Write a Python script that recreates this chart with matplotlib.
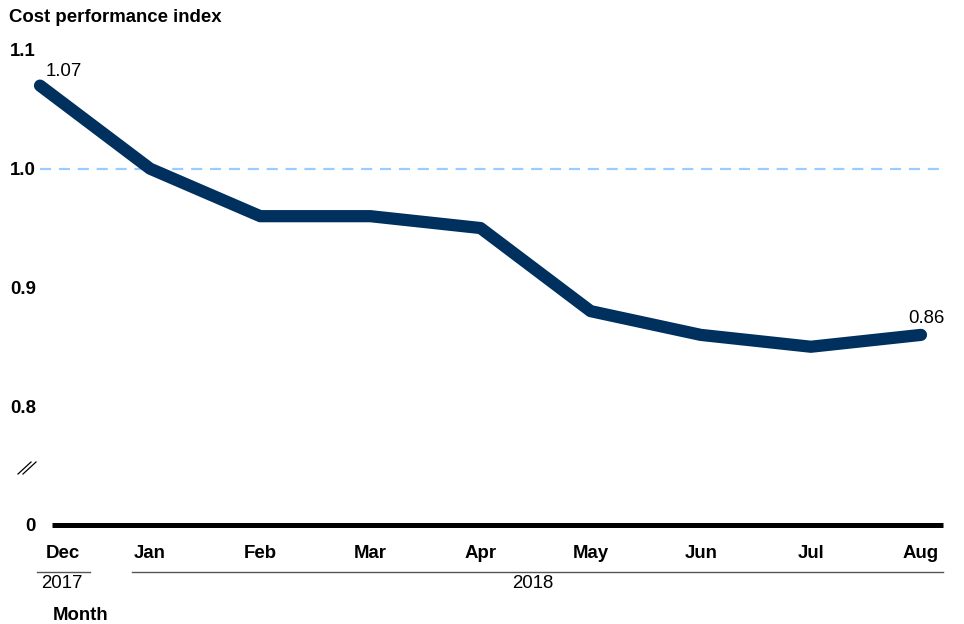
"""Cost performance index line chart with a broken y axis."""

import matplotlib

matplotlib.use("Agg")
import matplotlib.pyplot as plt
import numpy as np

months = ["Dec", "Jan", "Feb", "Mar", "Apr", "May", "Jun", "Jul", "Aug"]
cpi = [1.07, 1.00, 0.96, 0.96, 0.95, 0.88, 0.86, 0.85, 0.86]
year_labels = ["2017", "2018"]
ytick_values = [0.70, 0.8, 0.9, 1.0, 1.1]
ytick_labels = ["0", "0.8", "0.9", "1.0", "1.1"]

LINE_COLOR = "#00305e"
REF_COLOR = "#99ccff"
FS = 13.4

plt.rcParams["font.family"] = ["Liberation Sans", "DejaVu Sans"]

W, H = 964, 624
fig = plt.figure(figsize=(W / 100, H / 100), dpi=100)


def px_box(left, top, right, bottom):
    return [left / W, 1 - bottom / H, (right - left) / W, (bottom - top) / H]


ax = fig.add_axes(px_box(40, 40, 950, 530))
x = np.arange(len(months))
step = (921 - 40) / 8
ax.set_xlim(0, (950 - 40) / step)
ax.set_ylim(1.1 - 480 / 1187, 1.1 + 10 / 1187)

for side in ax.spines.values():
    side.set_visible(False)

# reference line at 1.0 and the zero baseline
ax.plot([0, (943 - 40) / step], [1.0, 1.0], color=REF_COLOR, lw=1.6,
        dashes=(5, 3.5), zorder=1, clip_on=False)
ax.plot([(52 - 40) / step, (943 - 40) / step], [0.70, 0.70], color="black",
        lw=3.6, solid_capstyle="butt", clip_on=False)

ax.plot(x, cpi, color=LINE_COLOR, lw=8.8, solid_capstyle="round",
        solid_joinstyle="round", clip_on=False, zorder=3)

ax.annotate(f"{cpi[0]:.2f}", (x[0], cpi[0]), xytext=(4, 4),
            textcoords="offset points", fontsize=FS, ha="left", va="bottom")
ax.annotate(f"{cpi[-1]:.2f}", (x[-1], cpi[-1]), xytext=(-9, 6),
            textcoords="offset points", fontsize=FS, ha="left", va="bottom")

ax.set_yticks(ytick_values)
ax.set_yticklabels(ytick_labels, fontweight="bold", fontsize=FS)
ax.tick_params(axis="y", length=0, pad=3)
ax.set_xticks([])

# month labels (Dec sits a little right of its point)
for i, m in enumerate(months):
    xpos = x[i] + (0.21 if i == 0 else 0)
    ax.text(xpos, 1.1 - (553 - 50) / 1187, m, ha="center", va="center",
            fontsize=FS, fontweight="bold", clip_on=False)

# year groups
fig.add_artist(plt.Line2D([37 / W, 90 / W], [1 - 572 / H] * 2, color="#555555", lw=1))
fig.add_artist(plt.Line2D([132 / W, 943 / W], [1 - 572 / H] * 2, color="#555555", lw=1))
fig.text(62 / W, 1 - 584 / H, year_labels[0], ha="center", va="center", fontsize=FS)
fig.text(533 / W, 1 - 584 / H, year_labels[1], ha="center", va="center", fontsize=FS)

fig.text(53 / W, 1 - 616 / H, "Month", ha="left", va="center",
         fontsize=FS, fontweight="bold")
fig.text(9 / W, 1 - 18 / H, "Cost performance index", ha="left", va="center",
         fontsize=FS, fontweight="bold")

# axis break marks
for dx in (0, 5):
    fig.add_artist(plt.Line2D([(18 + dx) / W, (31 + dx) / W],
                              [1 - 474 / H, 1 - 462 / H],
                              color="black", lw=0.9))

fig.savefig("out.png", dpi=100)
